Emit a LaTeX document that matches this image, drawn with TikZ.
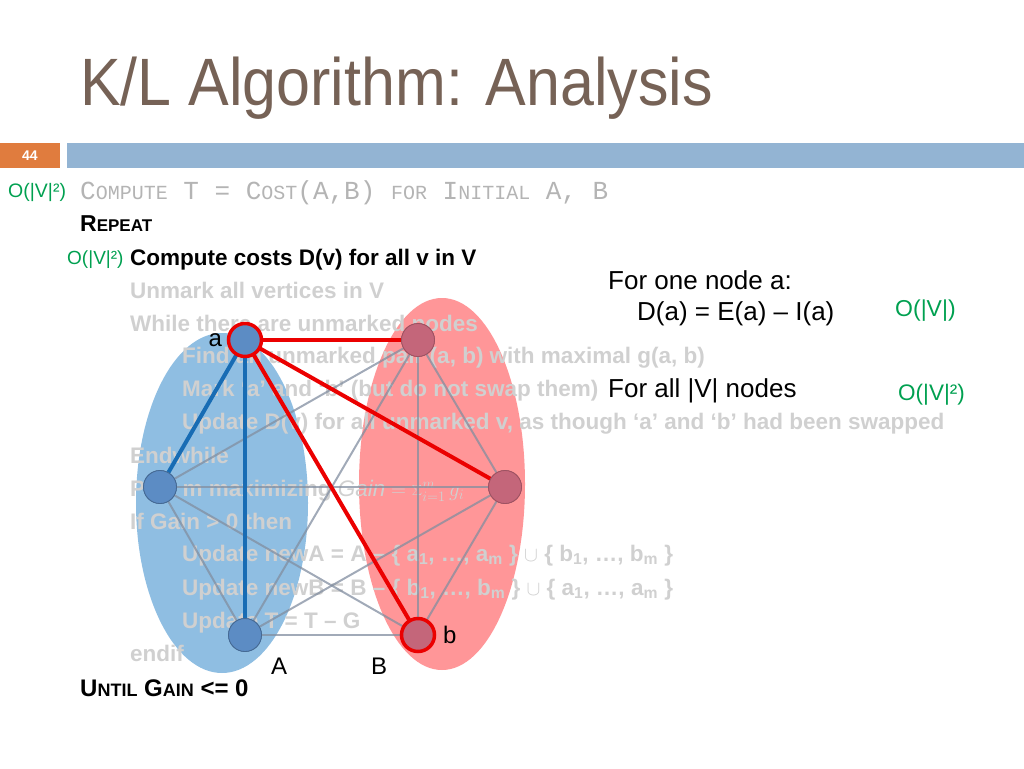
\documentclass[tikz,border=0pt]{standalone}
\usepackage{fontspec}
\setmainfont{Liberation Sans}
\setmonofont{Liberation Mono}
\usetikzlibrary{positioning}
\definecolor{titlebrown}{RGB}{118,98,86}
\definecolor{barblue}{RGB}{147,180,211}
\definecolor{numorange}{RGB}{224,124,62}
\definecolor{ordgreen}{RGB}{0,160,80}
\definecolor{fadegray}{RGB}{208,208,208}
\definecolor{monogray}{RGB}{180,180,180}
\definecolor{setblue}{RGB}{143,190,226}
\definecolor{setred}{RGB}{255,150,152}
\definecolor{nodeblue}{RGB}{92,140,196}
\definecolor{nodered}{RGB}{196,102,122}
\definecolor{edgeblue}{RGB}{24,108,180}
\definecolor{edgered}{RGB}{235,0,0}
\definecolor{thingray}{RGB}{130,142,160}
% fake small caps: first letter large, rest smaller upper case
\newcommand{\bigsc}[3]{{\fontsize{#1}{#1}\selectfont #2}{\fontsize{\numexpr #1*3/4\relax}{#1}\selectfont #3}}
\begin{document}
\begin{tikzpicture}[x=1pt,y=-1pt,
	body/.style={anchor=base west,inner sep=0pt,font=\fontsize{22.5}{26}\selectfont},
	faded/.style={body,text=fadegray,font=\fontsize{22.5}{26}\selectfont\bfseries},
	note/.style={body,font=\fontsize{26}{30}\selectfont},
	order/.style={anchor=base west,inner sep=0pt,text=ordgreen},
	tag/.style={inner sep=0pt,font=\fontsize{24}{28}\selectfont},
	vert/.style={circle,minimum size=33pt,inner sep=0pt},
	vblue/.style={vert,fill=nodeblue,draw=nodeblue!75!black,line width=0.8pt},
	vred/.style={vert,fill=nodered,draw=nodered!80!black,line width=0.8pt},
	marked/.style={draw=edgered,line width=3.5pt},
	link/.style={thingray,line width=2pt,opacity=0.75},
	bluelink/.style={edgeblue,line width=4pt},
	redlink/.style={edgered,line width=4pt}]
	\useasboundingbox (0,0) rectangle (1024,768);
	% header
	\node[anchor=base west,inner sep=0pt,text=titlebrown,font=\fontsize{67}{72}\selectfont]
		(title) at (80,105) {\scalebox{0.91}[1]{K/L Algorithm: Analysis}};
	\fill[numorange] (0,143) rectangle (60,168);
	\node[text=white,font=\fontsize{14}{16}\selectfont\bfseries] (num) at (30,155.5) {44};
	\fill[barblue] (67,143) rectangle (1024,168);
	% partitions
	\fill[setblue] (222,503) ellipse [x radius=86,y radius=170];
	\fill[setred] (442,484) ellipse [x radius=83,y radius=186];
	% algorithm text
	\node[order,font=\fontsize{19.5}{22}\selectfont] (o1) at (8,197) {O(|V|²)};
	\node[anchor=base west,inner sep=0pt,text=monogray,font=\ttfamily\fontsize{26}{30}\selectfont] (init) at (80,199)
		{\bigsc{26}{C}{OMPUTE} \bigsc{26}{T}{} \bigsc{26}{=}{} \bigsc{26}{C}{OST}\bigsc{26}{(A,B)}{} \bigsc{26}{}{FOR} \bigsc{26}{I}{NITIAL} \bigsc{26}{A, B}{}};
	\node[body,font=\fontsize{23}{26}\selectfont\bfseries] (rep) at (80,231) {\bigsc{23}{R}{EPEAT}};
	\node[order,font=\fontsize{19}{22}\selectfont] (o2) at (67,264) {O(|V|²)};
	\node[body,font=\fontsize{22.5}{26}\selectfont\bfseries] (cost) at (130,265) {Compute costs D(v) for all v in V};
	\node[faded] (l1) at (130,298) {Unmark all vertices in V};
	\node[faded] (l2) at (130,331) {While there are unmarked nodes};
	\node[faded] (l3) at (182,363) {Find an unmarked pair (a, b) with maximal g(a, b)};
	\node[faded] (l4) at (182,396) {Mark ‘a’ and ‘b’ (but do not swap them)};
	\node[faded] (l5) at (182,429) {Update D(v) for all unmarked v, as though ‘a’ and ‘b’ had been swapped};
	\node[faded] (l6) at (130,463) {Endwhile};
	\node[faded] (l7) at (130,496) {Pick m maximizing $\mathit{Gain}=\sum_{i=1}^{m} g_i$};
	\node[faded] (l8) at (130,529) {If Gain > 0 then};
	\node[faded] (l9) at (182,561) {Update newA = A – \{ a\textsubscript{1}, …, a\textsubscript{m} \} $\cup$ \{ b\textsubscript{1}, …, b\textsubscript{m} \}};
	\node[faded] (l10) at (182,595) {Update newB = B – \{ b\textsubscript{1}, …, b\textsubscript{m} \} $\cup$ \{ a\textsubscript{1}, …, a\textsubscript{m} \}};
	\node[faded] (l11) at (182,628) {Update T = T – G};
	\node[faded] (l12) at (130,661) {endif};
	\node[body,font=\fontsize{24}{28}\selectfont\bfseries] (until) at (80,696) {\bigsc{24}{U}{NTIL} \bigsc{24}{G}{AIN} \bigsc{24}{<= 0}{}};
	% graph
	\node[vblue] (a1) at (245,340) {};
	\node[vblue] (a2) at (160,487) {};
	\node[vblue] (a3) at (245,635) {};
	\node[vred] (b1) at (418,340) {};
	\node[vred] (b2) at (505,487) {};
	\node[vred] (b3) at (418,635) {};
	\foreach \u/\v in {a2/b1,a2/b2,a2/b3,a2/a3,a3/b1,a3/b2,a3/b3,b1/b2,b1/b3,b2/b3}
		\draw[link] (\u) -- (\v);
	\draw[bluelink] (a1) -- (a2);
	\draw[bluelink] (a1) -- (a3);
	\foreach \v in {b1,b2,b3}
		\draw[redlink] (a1) -- (\v);
	\foreach \v in {a2,a3}
		\node[vblue] at (\v) {};
	\foreach \v in {b1,b2}
		\node[vred] at (\v) {};
	\node[vblue,marked] at (a1) {};
	\node[vred,marked] at (b3) {};
	\node[tag,left=6pt of a1,anchor=east] (la) {a};
	\node[tag,right=8pt of b3,anchor=west] (lb) {b};
	\node[tag,anchor=base] (setA) at (279,674) {A};
	\node[tag,anchor=base] (setB) at (379,674) {B};
	% notes
	\node[note] (one) at (608,289) {For one node a:};
	\node[note] (dform) at (637,320) {D(a) = E(a) – I(a)};
	\node[order,font=\fontsize{23}{26}\selectfont] (o3) at (895,316) {O(|V|)};
	\node[note] (all) at (608,397) {For all |V| nodes};
	\node[order,font=\fontsize{22.5}{26}\selectfont] (o4) at (898,400) {O(|V|²)};
\end{tikzpicture}
\end{document}
